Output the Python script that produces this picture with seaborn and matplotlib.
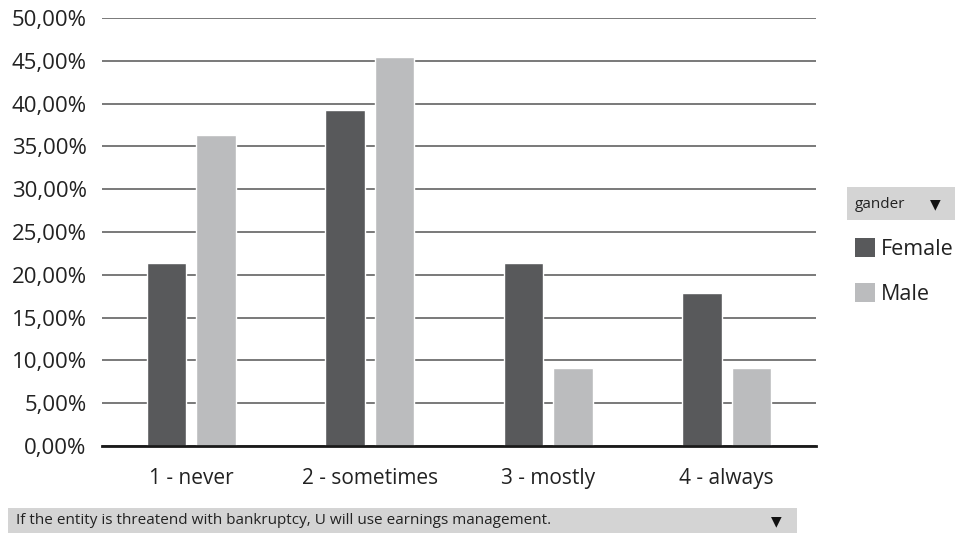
import matplotlib
matplotlib.use("Agg")
import matplotlib.pyplot as plt
from matplotlib.patches import Rectangle, Patch
from matplotlib.ticker import FuncFormatter, MultipleLocator
import seaborn as sns
import pandas as pd

categories = ["1 - never", "2 - sometimes", "3 - mostly", "4 - always"]
female = [21.43, 39.29, 21.43, 17.86]
male = [36.36, 45.45, 9.09, 9.09]
groups = ["Female", "Male"]
legend_title = "gander"
filter_text = "If the entity is threatend with bankruptcy, U will use earnings management."

df = pd.DataFrame({
    "answer": categories * 2,
    "gender": [groups[0]] * len(categories) + [groups[1]] * len(categories),
    "share": female + male,
})

sns.set_theme(style="white")
plt.rcParams["font.family"] = ["Open Sans", "DejaVu Sans"]

fig = plt.figure(figsize=(9.55, 5.42), dpi=100)
ax = fig.add_axes([102 / 955, 96 / 542, 714 / 955, 428 / 542])

palette = {"Female": "#58595b", "Male": "#bbbcbe"}
sns.barplot(data=df, x="answer", y="share", hue="gender", order=categories,
            hue_order=groups, palette=palette, width=0.56, gap=0.21,
            saturation=1, ax=ax, legend=False, zorder=3)

ax.set_ylim(0, 50)
ax.set_xlim(-0.5, 3.5)
ax.yaxis.set_major_locator(MultipleLocator(5))
ax.yaxis.set_major_formatter(FuncFormatter(lambda v, _: f"{v:.2f}".replace(".", ",") + "%"))
ax.grid(axis="y", color="#555555", linewidth=1.1, zorder=0)
ax.set_axisbelow(True)
for side in ["top", "right", "left"]:
    ax.spines[side].set_visible(False)
ax.spines["bottom"].set_color("#1a1a1a")
ax.spines["bottom"].set_linewidth(2)
ax.spines["bottom"].set_zorder(4)
ax.tick_params(axis="both", length=0, colors="#222222")
ax.tick_params(axis="y", pad=11, labelsize=16)
ax.tick_params(axis="x", pad=16, labelsize=15)
ax.set_xlabel("")
ax.set_ylabel("")

# legend header box
fig.patches.append(Rectangle((847 / 955, 1 - 220 / 542), 108 / 955, 33 / 542,
                             transform=fig.transFigure, facecolor="#d4d4d4",
                             edgecolor="none"))
fig.text(855 / 955, 1 - 204 / 542, legend_title, fontsize=11, va="center",
         color="#222222")
fig.text(935 / 955, 1 - 204 / 542, "\u25bc", fontsize=10, va="center",
         ha="center", color="#111111", family="DejaVu Sans")

handles = [Patch(facecolor=palette[g], edgecolor="none") for g in groups]
fig.legend(handles, groups, loc="upper left",
           bbox_to_anchor=(855 / 955, 1 - 238 / 542), frameon=False,
           fontsize=15.5, handlelength=0.95, handleheight=0.95,
           handletextpad=0.25, labelspacing=1.1, borderaxespad=0,
           borderpad=0, labelcolor="#222222")

# filter bar at the bottom
fig.patches.append(Rectangle((8 / 955, 1 - 533 / 542), 789 / 955, 25 / 542,
                             transform=fig.transFigure, facecolor="#d4d4d4",
                             edgecolor="none"))
fig.text(16 / 955, 1 - 521 / 542, filter_text, fontsize=11, va="center",
         color="#222222")
fig.text(776 / 955, 1 - 521 / 542, "\u25bc", fontsize=10, va="center",
         ha="center", color="#111111", family="DejaVu Sans")

fig.savefig("out.png", dpi=100)
